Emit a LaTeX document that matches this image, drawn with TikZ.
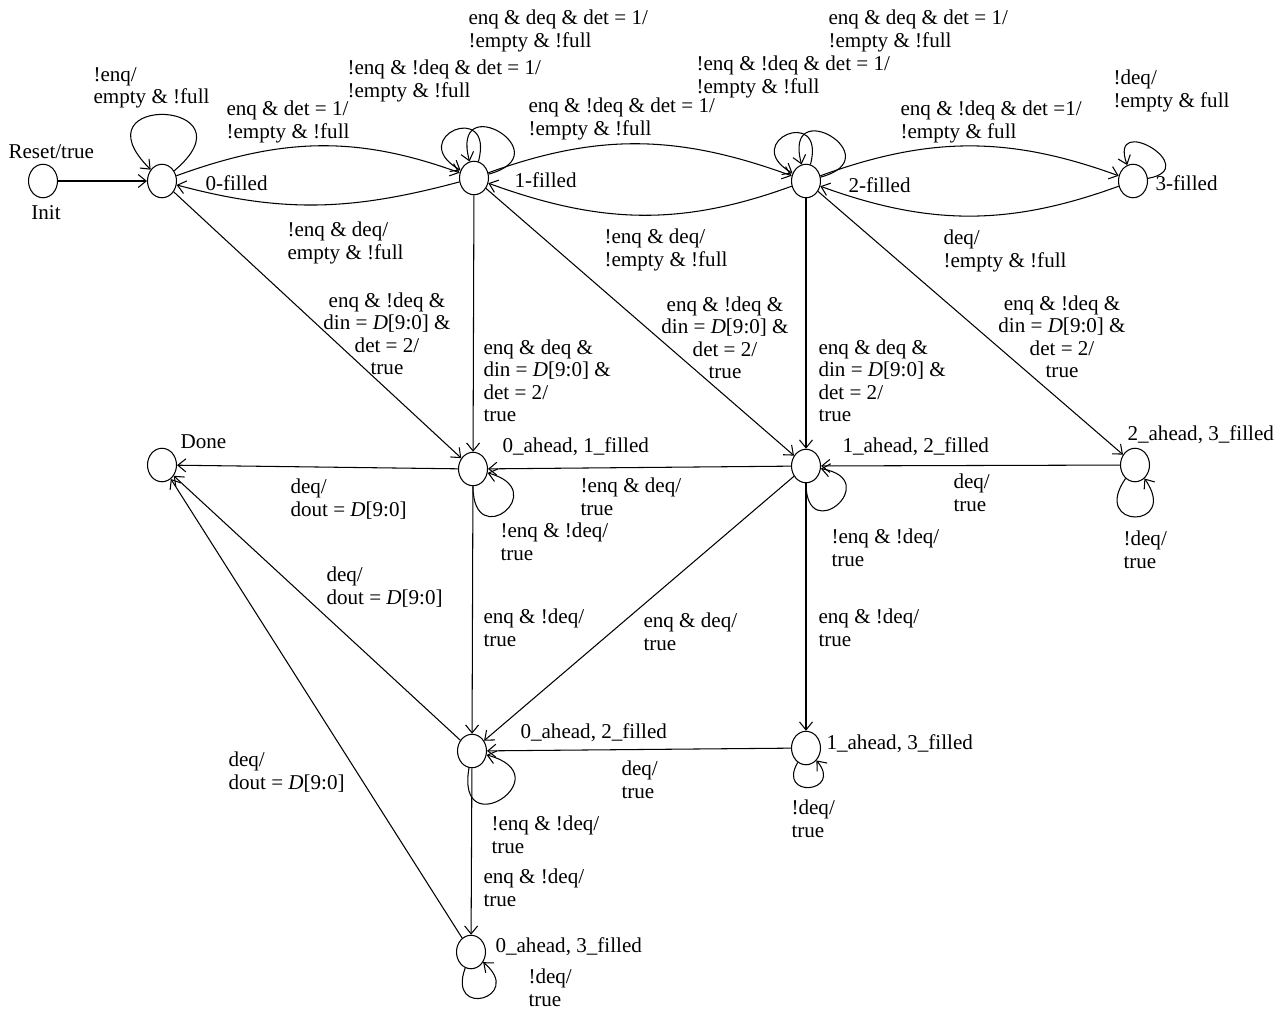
\documentclass[tikz,border=0pt]{standalone}
\usepackage{fontspec}
\setmainfont{Liberation Serif}
\usetikzlibrary{shapes.geometric,arrows.meta}

\begin{document}
\begin{tikzpicture}[x=0.02cm,y=-0.02cm,line width=.6pt,
    >={Straight Barb[length=1.6mm,width=2.6mm]},
    fsm/.style={draw,ellipse,minimum width=.58cm,minimum height=.67cm,inner sep=0pt},
    lbl/.style={anchor=west,align=left,inner sep=0pt,font=\fontsize{12}{12.8}\selectfont},
    clbl/.style={lbl,anchor=center,align=center}]
  \useasboundingbox (0,0) rectangle (1275,1009);
  % states
  \foreach \n/\x/\y in {init/43/181,s0/162/181,s1/474/178,s2/806/181,s3/1133/181,
                        done/162/465,a01/473/469,a12/806/466,a23/1135/465,
                        a02/472/751,a13/806/748,a03/471/952}
    \node[fsm] (\n) at (\x,\y) {};
  % state names
  \node[lbl] (nReset) at (8,152) {Reset/true};
  \node[lbl,anchor=center] (nInit) at (46,213) {Init};
  \node[lbl] (n0) at (205,183) {0-filled};
  \node[lbl] (n1) at (514,180) {1-filled};
  \node[lbl] (n2) at (848,185) {2-filled};
  \node[lbl] (n3) at (1155,183) {3-filled};
  \node[lbl] (nDone) at (180,442) {Done};
  \node[lbl] (nA01) at (502,447) {0\_ahead, 1\_filled};
  \node[lbl] (nA12) at (842,447) {1\_ahead, 2\_filled};
  \node[lbl] (nA23) at (1127,435) {2\_ahead, 3\_filled};
  \node[lbl] (nA02) at (520,733) {0\_ahead, 2\_filled};
  \node[lbl] (nA13) at (826,744) {1\_ahead, 3\_filled};
  \node[lbl] (nA03) at (495,947) {0\_ahead, 3\_filled};

  % filling up
  \draw[->] (init) -- (s0);
  \draw[->] (s0) to[out=40,in=135,min distance=2.2cm] (s0);
  \draw[->] (s0) to[out=20,in=160] (s1);
  \draw[->] (s1) to[out=195,in=-15] (s0);
  \draw[->] (s1) to[out=15,in=105,min distance=1.55cm] (s1);
  \draw[->] (s1) to[out=75,in=150,min distance=1.3cm] (s1);
  \draw[->] (s1) to[out=20,in=160] (s2);
  \draw[->] (s2) to[out=200,in=-20] (s1);
  \draw[->] (s2) to[out=15,in=105,min distance=1.5cm] (s2);
  \draw[->] (s2) to[out=75,in=150,min distance=1.25cm] (s2);
  \draw[->] (s2) to[out=20,in=160] (s3);
  \draw[->] (s3) to[out=200,in=-20] (s2);
  \draw[->] (s3) to[out=10,in=110,min distance=1.15cm] (s3);
  \node[lbl] (l00) at (93,88) {!enq/\\empty \& !full};
  \node[lbl] (l01) at (226,122) {enq \& det = 1/\\!empty \& !full};
  \node[lbl] (l10) at (287,243) {!enq \& deq/\\empty \& !full};
  \node[lbl] (l11a) at (347,81) {!enq \& !deq \& det = 1/\\!empty \& !full};
  \node[lbl] (l11b) at (468,31) {enq \& deq \& det = 1/\\!empty \& !full};
  \node[lbl] (l12) at (528,119) {enq \& !deq \& det = 1/\\!empty \& !full};
  \node[lbl] (l21) at (604,250) {!enq \& deq/\\!empty \& !full};
  \node[lbl] (l22a) at (696,77) {!enq \& !deq \& det = 1/\\!empty \& !full};
  \node[lbl] (l22b) at (828,31) {enq \& deq \& det = 1/\\!empty \& !full};
  \node[lbl] (l23) at (900,122) {enq \& !deq \& det =1/\\!empty \& full};
  \node[lbl] (l32) at (943,251) {deq/\\!empty \& !full};
  \node[lbl] (l33) at (1113,91) {!deq/\\!empty \& full};

  % detection
  \draw[->] (s0) -- (a01);
  \draw[->] (s1) -- (a01);
  \draw[->] (s1) -- (a12);
  \draw[->] (s2) -- (a12);
  \draw[->] (s2) -- (a23);
  \node[clbl] (m0) at (387,334) {enq \& !deq \&\\din = \textit{D}[9:0] \&\\det = 2/\\true};
  \node[lbl] (m1a) at (483,381) {enq \& deq \&\\din = \textit{D}[9:0] \&\\det = 2/\\true};
  \node[clbl] (m1b) at (725,338) {enq \& !deq \&\\din = \textit{D}[9:0] \&\\det = 2/\\true};
  \node[lbl] (m2a) at (818,381) {enq \& deq \&\\din = \textit{D}[9:0] \&\\det = 2/\\true};
  \node[clbl] (m2b) at (1062,337) {enq \& !deq \&\\din = \textit{D}[9:0] \&\\det = 2/\\true};

  % ahead states
  \draw[->] (a23) -- (a12);
  \draw[->] (a12) -- (a01);
  \draw[->] (a01) -- (done);
  \draw[->] (a01) -- (a02);
  \draw[->] (a12) -- (a02);
  \draw[->] (a12) -- (a13);
  \draw[->] (a13) -- (a02);
  \draw[->] (a02) -- (done);
  \draw[->] (a02) -- (a03);
  \draw[->] (a03) -- (done);
  \draw[->] (a01) to[out=-90,in=-15,min distance=1.35cm] (a01);
  \draw[->] (a12) to[out=-90,in=-10,min distance=1.3cm] (a12);
  \draw[->] (a23) to[out=-125,in=-55,min distance=1.25cm] (a23);
  \draw[->] (a02) to[out=-100,in=-15,min distance=1.6cm] (a02);
  \draw[->] (a13) to[out=-120,in=-50,min distance=.85cm] (a13);
  \draw[->] (a03) to[out=-110,in=-40,min distance=1.1cm] (a03);
  \node[lbl] (k1) at (953,493) {deq/\\true};
  \node[lbl] (k2) at (1123,550) {!deq/\\true};
  \node[lbl] (k3) at (580,497) {!enq \& deq/\\true};
  \node[lbl] (k4) at (831,548) {!enq \& !deq/\\true};
  \node[lbl] (k5) at (500,542) {!enq \& !deq/\\true};
  \node[lbl] (k6) at (290,499) {deq/\\dout = \textit{D}[9:0]};
  \node[lbl] (k7) at (326,587) {deq/\\dout = \textit{D}[9:0]};
  \node[lbl] (k8) at (483,628) {enq \& !deq/\\true};
  \node[lbl] (k9) at (643,632) {enq \& deq/\\true};
  \node[lbl] (k10) at (818,628) {enq \& !deq/\\true};
  \node[lbl] (k11) at (228,772) {deq/\\dout = \textit{D}[9:0]};
  \node[lbl] (k12) at (621,780) {deq/\\true};
  \node[lbl] (k13) at (791,819) {!deq/\\true};
  \node[lbl] (k14) at (491,835) {!enq \& !deq/\\true};
  \node[lbl] (k15) at (483,888) {enq \& !deq/\\true};
  \node[lbl] (k16) at (528,988) {!deq/\\true};
\end{tikzpicture}
\end{document}
